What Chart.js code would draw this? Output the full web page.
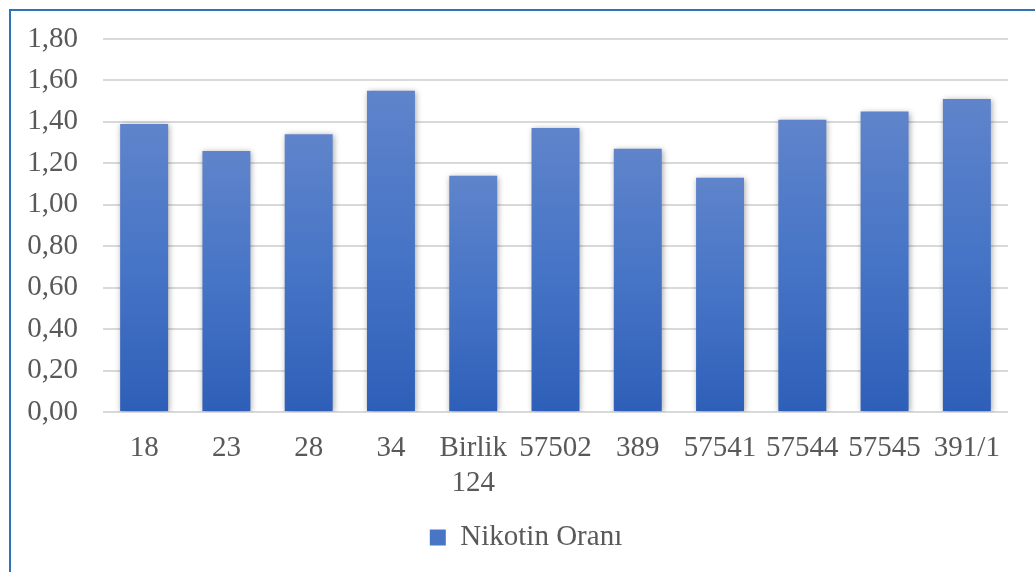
<!DOCTYPE html>
<html>
<head>
<meta charset="utf-8">
<script src="https://cdn.jsdelivr.net/npm/chart.js@4"></script>
<style>
  html, body { margin: 0; padding: 0; background: #ffffff; overflow: hidden; }
  #wrap { position: relative; width: 1035px; height: 572px; }
  #frame { position: absolute; left: 9px; top: 9px; width: 1100px; height: 700px;
           border-left: 2px solid #2E75B6; border-top: 2px solid #2E75B6; box-sizing: border-box; }
  canvas { position: absolute; left: 0; top: 0; }
</style>
</head>
<body>
<div id="wrap">
  <div id="frame"></div>
  <canvas id="c" width="1035" height="572"></canvas>
</div>
<script>
const categories = ["18", "23", "28", "34", ["Birlik", "124"], "57502", "389", "57541", "57544", "57545", "391/1"];
const seriesName = "Nikotin Oranı";
const nikotinValues = [1.39, 1.26, 1.34, 1.55, 1.14, 1.37, 1.27, 1.13, 1.41, 1.45, 1.51];
const yTickValues = [0, 0.2, 0.4, 0.6, 0.8, 1.0, 1.2, 1.4, 1.6, 1.8];

const FONT = "'Liberation Serif', 'Times New Roman', serif";
const TEXT = "#595959";
const FS = 29;

function barGradient(ctx) {
  const chart = ctx.chart;
  if (ctx.type !== 'data' || !chart.chartArea) return '#4472C4';
  const y = chart.scales.y;
  const top = y.getPixelForValue(ctx.parsed ? ctx.parsed.y : ctx.raw);
  const base = y.getPixelForValue(0);
  if (!isFinite(top) || !isFinite(base) || top === base) return '#4472C4';
  const g = chart.ctx.createLinearGradient(0, top, 0, base);
  g.addColorStop(0, '#5F84CB');
  g.addColorStop(0.5, '#4674C6');
  g.addColorStop(1, '#2E5FB8');
  return g;
}

const shadowPlugin = {
  id: 'barShadow',
  beforeDatasetsDraw(chart) {
    const c = chart.ctx;
    c.save();
    c.shadowColor = 'rgba(0,0,0,0.35)';
    c.shadowBlur = 6;
    c.shadowOffsetX = 1;
    c.shadowOffsetY = 1;
  },
  afterDatasetsDraw(chart) {
    chart.ctx.restore();
  }
};

// shift the centred legend band slightly to the right, as in the reference
const legendBandPlugin = {
  id: 'legendBand',
  beforeDraw(chart) {
    const l = chart.legend;
    if (l) { l.left = 44; l.right = 1008; }
  }
};

new Chart(document.getElementById('c'), {
  type: 'bar',
  data: {
    labels: categories,
    datasets: [{
      label: seriesName,
      data: nikotinValues,
      backgroundColor: barGradient,
      borderWidth: 0,
      barPercentage: 0.583,
      categoryPercentage: 1.0
    }]
  },
  plugins: [shadowPlugin, legendBandPlugin],
  options: {
    responsive: false,
    animation: false,
    devicePixelRatio: 1,
    layout: { padding: { left: 0, right: 27, top: 39, bottom: 10 } },
    plugins: {
      tooltip: { enabled: false },
      legend: {
        position: 'bottom',
        labels: {
          font: { family: FONT, size: FS },
          color: TEXT,
          boxWidth: 16,
          boxHeight: 16,
          padding: 10,
          generateLabels(chart) {
            const items = Chart.defaults.plugins.legend.labels.generateLabels(chart);
            items.forEach(i => { i.fillStyle = '#4A74C6'; i.strokeStyle = 'rgba(0,0,0,0)'; i.lineWidth = 0; });
            return items;
          }
        }
      }
    },
    scales: {
      x: {
        grid: { display: false, drawTicks: false },
        border: { display: false },
        ticks: {
          font: { family: FONT, size: FS },
          color: TEXT,
          padding: 19,
          maxRotation: 0,
          autoSkip: false
        },
        afterFit(scale) { scale.height = 101; }
      },
      y: {
        min: 0,
        max: 1.8,
        afterBuildTicks(scale) { scale.ticks = yTickValues.map(v => ({ value: v })); },
        grid: { color: '#D9D9D9', lineWidth: 2, drawTicks: false },
        border: { display: false },
        ticks: {
          font: { family: FONT, size: FS },
          color: TEXT,
          padding: 25,
          callback: (v) => Number(v).toFixed(2).replace('.', ',')
        },
        afterFit(scale) {
          scale.width = 103;
          scale.paddingTop = 18;
          scale.paddingBottom = 18;
        }
      }
    }
  }
});
</script>
</body>
</html>
